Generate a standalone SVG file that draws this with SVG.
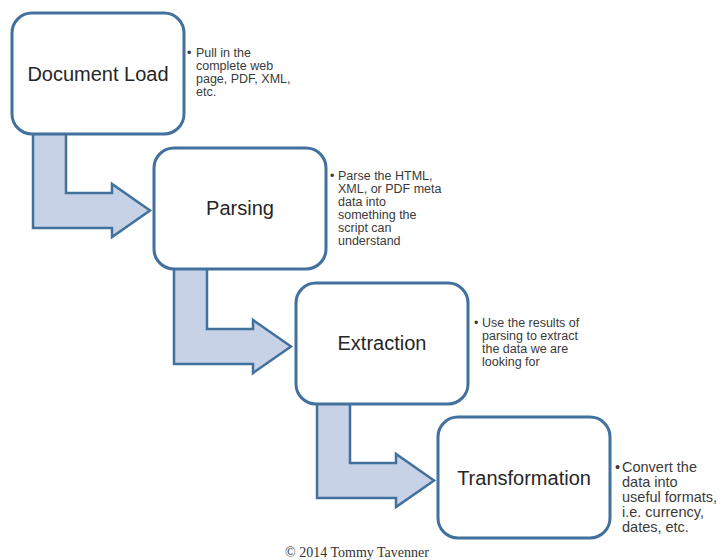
<svg xmlns="http://www.w3.org/2000/svg" width="726" height="560" viewBox="0 0 726 560">
<style>
.box{fill:#ffffff;stroke:#41719c;stroke-width:3}
.arr{fill:#c8d2e6;stroke:#41719c;stroke-width:2.5;stroke-linejoin:miter}
.lbl{font-family:"Liberation Sans",Arial,sans-serif;font-size:20px;fill:#262626;text-anchor:middle}
.note{font-family:"Liberation Sans",Arial,sans-serif;font-size:12.5px;fill:#3a3a3a}
.note2{font-family:"Liberation Sans",Arial,sans-serif;font-size:14.5px;fill:#3a3a3a}
.copy{font-family:"Liberation Serif","Times New Roman",serif;font-size:14px;fill:#333;text-anchor:middle}
</style>
<rect width="726" height="560" fill="#ffffff"/>
<g id="connectors">
<path class="arr" d="M33,133 L66,133 L66,193 L112,193 L112,184 L150,210.5 L112,237 L112,228 L33,228 Z"/>
<path class="arr" d="M174,268 L207,268 L207,329 L253,329 L253,320 L291,346.5 L253,373 L253,364 L174,364 Z"/>
<path class="arr" d="M317,403 L350,403 L350,463 L396,463 L396,454 L434,480.5 L396,507 L396,498 L317,498 Z"/>
</g>
<g id="document-load">
<rect class="box" x="12" y="13" width="172" height="121" rx="20"/>
<text class="lbl" x="98" y="81">Document Load</text>
<text class="note"><tspan x="187" y="57">•</tspan><tspan x="196" y="57">Pull in the</tspan><tspan x="196" y="70">complete web</tspan><tspan x="196" y="83">page, PDF, XML,</tspan><tspan x="196" y="96">etc.</tspan></text>
</g>
<g id="parsing">
<rect class="box" x="154" y="148" width="172" height="121" rx="20"/>
<text class="lbl" x="240" y="215">Parsing</text>
<text class="note"><tspan x="330" y="180">•</tspan><tspan x="338" y="180">Parse the HTML,</tspan><tspan x="338" y="193">XML, or PDF meta</tspan><tspan x="338" y="206">data into</tspan><tspan x="338" y="219">something the</tspan><tspan x="338" y="232">script can</tspan><tspan x="338" y="245">understand</tspan></text>
</g>
<g id="extraction">
<rect class="box" x="296" y="283" width="172" height="121" rx="20"/>
<text class="lbl" x="382" y="350">Extraction</text>
<text class="note"><tspan x="474" y="327">•</tspan><tspan x="482" y="327">Use the results of</tspan><tspan x="482" y="340">parsing to extract</tspan><tspan x="482" y="353">the data we are</tspan><tspan x="482" y="366">looking for</tspan></text>
</g>
<g id="transformation">
<rect class="box" x="438" y="417" width="172" height="121" rx="20"/>
<text class="lbl" x="524" y="485">Transformation</text>
<text class="note2"><tspan x="615" y="472">•</tspan><tspan x="622" y="472">Convert the</tspan><tspan x="622" y="487">data into</tspan><tspan x="622" y="502">useful formats,</tspan><tspan x="622" y="517">i.e. currency,</tspan><tspan x="622" y="532">dates, etc.</tspan></text>
</g>
<text class="copy" x="357" y="557">© 2014 Tommy Tavenner</text>
</svg>
